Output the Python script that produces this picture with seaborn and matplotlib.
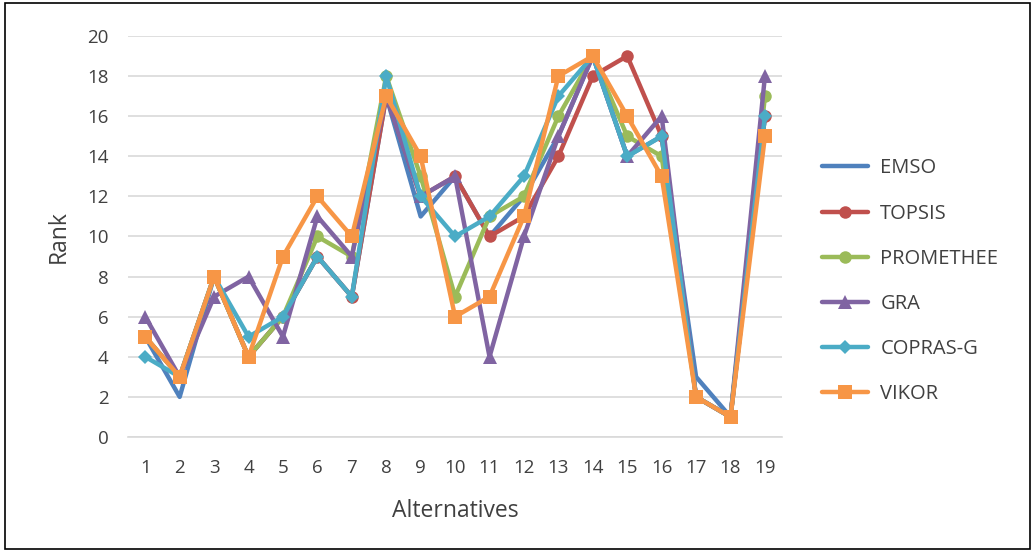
import matplotlib
matplotlib.use("Agg")
import matplotlib.pyplot as plt
import matplotlib.patches as mpatches
import seaborn as sns
import pandas as pd

# Ranks assigned to each alternative by the six MCDM methods
alternatives = list(range(1, 20))
emso = [5, 2, 8, 4, 6, 9, 7, 17, 11, 13, 10, 12, 15, 19, 14, 15, 3, 1, 16]
topsis = [5, 3, 8, 4, 6, 9, 7, 17, 12, 13, 10, 11, 14, 18, 19, 15, 2, 1, 16]
promethee = [5, 3, 8, 4, 6, 10, 9, 18, 13, 7, 11, 12, 16, 19, 15, 14, 2, 1, 17]
gra = [6, 3, 7, 8, 5, 11, 9, 17, 12, 13, 4, 10, 15, 19, 14, 16, 2, 1, 18]
copras_g = [4, 3, 8, 5, 6, 9, 7, 18, 12, 10, 11, 13, 17, 19, 14, 15, 2, 1, 16]
vikor = [5, 3, 8, 4, 9, 12, 10, 17, 14, 6, 7, 11, 18, 19, 16, 13, 2, 1, 15]

methods = ["EMSO", "TOPSIS", "PROMETHEE", "GRA", "COPRAS-G", "VIKOR"]
series = [emso, topsis, promethee, gra, copras_g, vikor]
colors = ["#4F81BD", "#C0504D", "#9BBB59", "#8064A2", "#4BACC6", "#F79646"]
markers = ["", "o", "o", "^", "D", "s"]
msizes = [0, 9, 9, 10, 7.5, 9.5]

rows = []
for m, vals in zip(methods, series):
    for a, v in zip(alternatives, vals):
        rows.append({"Alternatives": a, "Rank": v, "Method": m})
df = pd.DataFrame(rows)

sns.set_theme(style="white")
plt.rcParams["font.family"] = ["Open Sans", "DejaVu Sans"]

fig = plt.figure(figsize=(10.35, 5.51), dpi=100)
ax = fig.add_axes([0.1237, 0.2069, 0.632, 0.7278])

for m, c, mk, ms in zip(methods, colors, markers, msizes):
    sub = df[df["Method"] == m]
    sns.lineplot(data=sub, x="Alternatives", y="Rank", ax=ax, color=c,
                 linewidth=3.2, marker=mk if mk else None, markersize=ms,
                 markeredgewidth=0, label=m, estimator=None, sort=False)

ax.set_xlim(0.5, 19.5)
ax.set_ylim(0, 20)
ax.set_xticks(alternatives)
ax.set_xticklabels([str(a) for a in alternatives])
ax.set_yticks(range(0, 21, 2))
ax.tick_params(axis="x", length=0, labelsize=13.5, colors="#404040", pad=16)
ax.tick_params(axis="y", length=0, labelsize=13.5, colors="#404040", pad=14)
ax.grid(axis="y", color="#D9D9D9", linewidth=1.2)
ax.set_axisbelow(True)
for side in ["top", "right", "left"]:
    ax.spines[side].set_visible(False)
ax.spines["bottom"].set_color("#D9D9D9")
ax.spines["bottom"].set_linewidth(1.2)

ax.set_xlabel("Alternatives", fontsize=16.5, color="#404040", labelpad=16)
ax.set_ylabel("Rank", fontsize=16.5, color="#404040", labelpad=12)

leg = ax.legend(loc="center left", bbox_to_anchor=(1.033, 0.388), frameon=False,
                fontsize=14.5, handlelength=2.3, labelspacing=1.25,
                handletextpad=0.6)
for t in leg.get_texts():
    t.set_color("#404040")

# Outer border of the chart area
fig.patches.append(mpatches.Rectangle((0.005, 0.004), 0.99, 0.991,
                                      transform=fig.transFigure, fill=False,
                                      edgecolor="black", linewidth=1.2))

fig.savefig("out.png", dpi=100)
